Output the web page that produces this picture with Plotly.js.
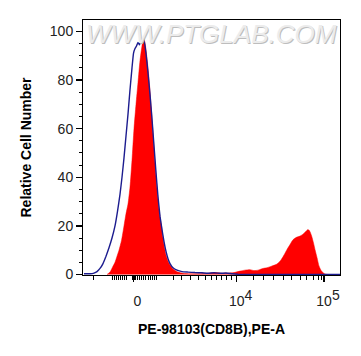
<!DOCTYPE html>
<html>
<head>
<meta charset="utf-8">
<script src="https://cdn.plot.ly/plotly-3.0.1.min.js"></script>
<style>html,body{margin:0;padding:0;background:#fff;}#chart{width:361px;height:356px;}</style>
</head>
<body>
<div id="chart"></div>
<script>
// Display channel (logicle-scaled PE-A axis), one bin position per value
const sampleChannel = [23.5,26.5,29,31.5,33.5,35.5,38,40.5,42.5,44.5,46.5,48.5,50.5,52.5,54.5,56.5,58.5,60.2,62,64,66,68,70,72,74,76,78,79.5,81,82.5,84.5,86.5,88.5,90.5,94.5,99.5,106.5,116.5,126.5,132.5,138.5,144.5,150.5,156.5,161.5,166.5,170.5,174.5,179.5,183.5,188.5,193.5,197.5,200.5,203.5,206.5,209.5,212.5,216.5,219.5,222,224.5,226,228,230,231.5,233.5,235.5,238,240.5,242.5,246.5];
const sampleCount   = [0,1,3,5,7.5,10,14,20,25,29,36,47,60,70,79,88,94,97.5,94,87,78,67,55,43,33,25,20,15,11,8,5.5,4,2.8,2,1,0.5,0.3,0.3,0.6,0.8,0.5,0.6,0.8,1.4,1.8,2.0,1.6,1.8,2.5,2.8,3.5,4.3,6,8,10.3,12.3,14.3,15.2,15.8,16.6,17.6,18.5,18,16,13,10.3,7,3.5,1.4,0.4,0.1,0];

const controlChannel = [0.5,6.5,10.5,13.5,16.5,19.5,22.5,25.5,28.5,31.5,34,36.5,38.5,40.5,42.5,44.5,46.5,48.5,50,51.5,53,54.5,56,57.5,59,60.5,62.5,64.5,66.5,68.5,70.5,72.5,74.5,76.5,78.5,80.5,82.5,84.5,86.5,89.5,93.5,98.5,104.5,111.5,118.5,124.5,130.5,136.5,142.5,148.5,154.5,161.5,256.5];
const controlCount   = [0.3,0.3,0.6,1.2,2.5,4.5,7.5,11,15,20,26,33,40,48,57,66,76,85,91,93,94,95.5,94.5,96.5,95.5,96.5,91,83,74,64,53,42,32,24,18.5,13.5,9.5,6.5,4.5,2.8,1.8,1.2,1,0.8,0.7,0.5,0.7,0.5,0.6,0.3,0.1,0,0];

// Axis ticks (display channel positions)
const xMajorVals  = [50, 153.2, 240.5];
const xMajorText  = ['0', '10<sup><span style="font-size:14px">4</span></sup>', '10<sup><span style="font-size:14px">5</span></sup>'];
const xMinorVals  = [9.8,29.2,31.2,33.2,35.2,37.2,39.2,41.2,43.2,48.5,49.2,49.6,50.4,50.8,51.5,53.5,55.7,57.9,60.1,62.3,64.5,66.7,68.9,71.1,73.2,89.8,98.2,106.5,114.8,121.5,128.2,133.2,138.2,143.2,148.2,169.8,179.8,189.8,199.8,208.2,216.5,223.2,229.8,234.8,238.2];
const yTickVals   = [0,20,40,60,80,100];

const FONT = 'Liberation Sans, Arial, sans-serif';

const traces = [
  {
    x: sampleChannel, y: sampleCount, type: 'scatter', mode: 'lines',
    fill: 'tozeroy', fillcolor: '#ff0000',
    line: {color: '#ff0000', width: 0.5, shape: 'spline', smoothing: 0.6},
    hoverinfo: 'skip'
  },
  {
    x: controlChannel, y: controlCount, type: 'scatter', mode: 'lines',
    line: {color: '#1c1c8f', width: 1.4, shape: 'spline', smoothing: 0.4},
    hoverinfo: 'skip'
  }
];

const layout = {
  width: 361, height: 356,
  margin: {l: 83, r: 21, t: 20, b: 81},
  paper_bgcolor: '#ffffff', plot_bgcolor: '#ffffff',
  showlegend: false,
  font: {family: FONT, color: '#222', size: 14},
  xaxis: {
    range: [-0.5, 256.5], showgrid: false, zeroline: false,
    showline: true, mirror: true, linecolor: '#000', linewidth: 1,
    tickmode: 'array', tickvals: xMajorVals, ticktext: xMajorText,
    ticks: 'outside', ticklen: 6, tickwidth: 1.5, tickcolor: '#000',
    ticklabelstandoff: 7, ticklabelshift: 4,
    tickfont: {family: FONT, size: 14, color: '#222'},
    minor: {tickmode: 'array', tickvals: xMinorVals, ticks: 'outside', ticklen: 3.5, tickwidth: 1, tickcolor: '#000', showgrid: false},
    title: {text: '<b>PE-98103(CD8B),PE-A</b>', font: {family: FONT, size: 14, color: '#000'}, standoff: 16}
  },
  yaxis: {
    range: [-0.2, 104.7], showgrid: false, zeroline: false,
    showline: true, mirror: true, linecolor: '#000', linewidth: 1,
    tickmode: 'array', tickvals: yTickVals,
    ticks: 'outside', ticklen: 6, tickwidth: 1.5, tickcolor: '#000',
    tickfont: {family: FONT, size: 14, color: '#222'},
    minor: {dtick: 5, ticks: 'outside', ticklen: 3, tickwidth: 1, tickcolor: '#000', showgrid: false},
    title: {text: '<b>Relative Cell Number</b>', font: {family: FONT, size: 14, color: '#000'}, standoff: 14}
  },
  annotations: [{
    text: '<i>WWW.PTGLAB.COM</i>', xref: 'paper', yref: 'paper', x: 0.5, y: 0.947,
    xanchor: 'center', yanchor: 'middle', showarrow: false,
    font: {family: FONT, size: 26, color: '#ececec', shadow: '1px 1px 0px #bdbdbd'}
  }]
};

Plotly.newPlot('chart', traces, layout, {staticPlot: true, displayModeBar: false});
</script>
</body>
</html>
